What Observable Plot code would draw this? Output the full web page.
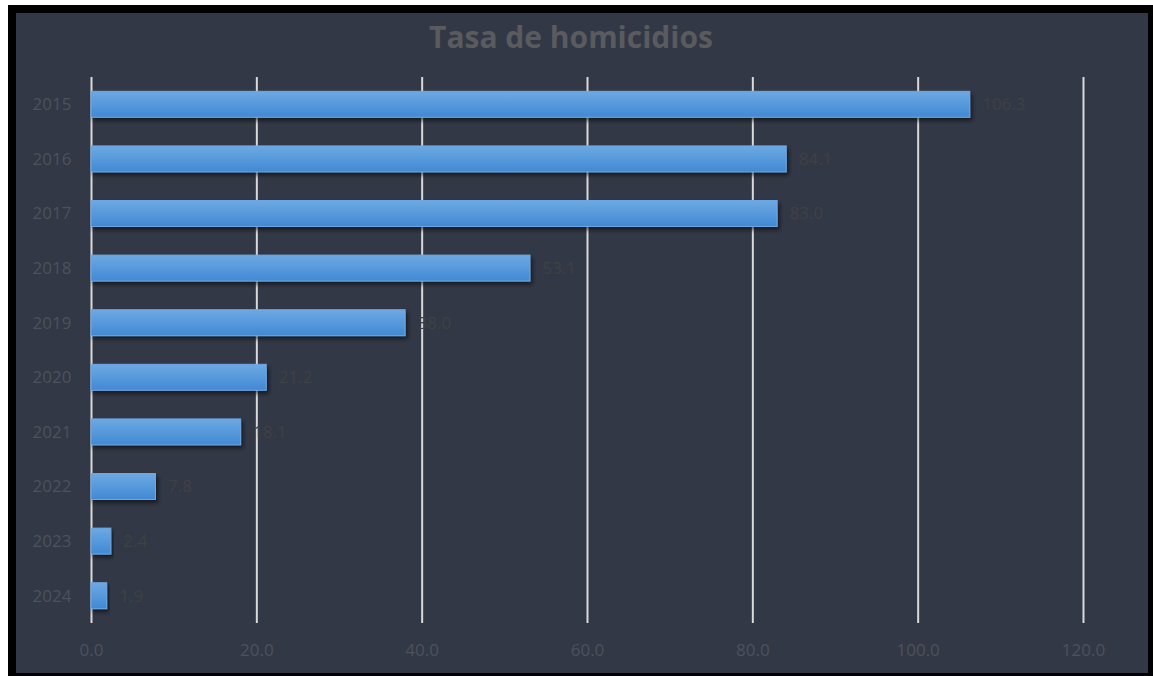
<!DOCTYPE html>
<html>
<head>
<meta charset="utf-8">
<script src="https://cdn.jsdelivr.net/npm/d3@7"></script>
<script src="https://cdn.jsdelivr.net/npm/@observablehq/plot@0.6"></script>
<style>
  html, body { margin: 0; padding: 0; background: #ffffff; width: 1153px; height: 676px; overflow: hidden; }
  #frame { position: absolute; left: 8px; top: 5px; width: 1145px; height: 671px; background: #000; }
  #panel { position: absolute; left: 16px; top: 13px; width: 1132px; height: 660px; background: #323846; }
  #title { position: absolute; left: 0px; top: 22px; width: 1142px; text-align: center; line-height: 30px;
           font-family: "Open Sans", sans-serif; font-weight: bold; font-size: 30px; color: #5a5b5e; }
  #chart { position: absolute; left: 0; top: 0; }
</style>
</head>
<body>
<div id="frame"></div>
<div id="panel"></div>
<div id="title">Tasa de homicidios</div>
<div id="chart"></div>
<script>
const years = ["2015","2016","2017","2018","2019","2020","2021","2022","2023","2024"];
const rates = [106.3, 84.1, 83.0, 53.1, 38.0, 21.2, 18.1, 7.8, 2.4, 1.9];
const xTicks = [0, 20, 40, 60, 80, 100, 120];

const data = years.map((y, i) => ({year: y, rate: rates[i]}));

const plot = Plot.plot({
  width: 1153,
  height: 676,
  marginLeft: 91,
  marginRight: 70,
  marginTop: 77,
  marginBottom: 53,
  style: {background: "transparent", fontFamily: "'Open Sans', sans-serif"},
  x: {domain: [0, 120], ticks: xTicks, tickFormat: d => d.toFixed(1), label: null},
  y: {domain: years, paddingInner: 0.525, paddingOuter: 0.2625, round: false, label: null},
  marks: [
    Plot.ruleX(xTicks, {stroke: "#d9d9d9", strokeWidth: 2, strokeOpacity: 1}),
    Plot.barX(data, {x: "rate", y: "year", fill: "#559be0", stroke: "#6fa9e6", strokeWidth: 1, className: "bars"}),
    Plot.text(data, {x: "rate", y: "year", text: d => d.rate.toFixed(1), textAnchor: "start", dx: 12, fill: "#404142", fontSize: 17}),
    Plot.axisX({ticks: xTicks, tickFormat: d => d.toFixed(1), tickSize: 0, tickPadding: 20, fontSize: 17, color: "#4d525c", label: null}),
    Plot.axisY({tickSize: 0, tickPadding: 20, fontSize: 17, color: "#4d525c", label: null})
  ]
});

const svg = d3.select(plot);
const defs = svg.insert("defs", ":first-child");
const grad = defs.append("linearGradient").attr("id", "barGrad").attr("x1", 0).attr("y1", 0).attr("x2", 0).attr("y2", 1);
grad.append("stop").attr("offset", "0%").attr("stop-color", "#6da9e3");
grad.append("stop").attr("offset", "100%").attr("stop-color", "#4189d4");
const filt = defs.append("filter").attr("id", "shadow").attr("x", "-5%").attr("y", "-30%").attr("width", "120%").attr("height", "180%");
filt.append("feDropShadow").attr("dx", 2).attr("dy", 3).attr("stdDeviation", 2).attr("flood-color", "#000").attr("flood-opacity", 0.55);
svg.selectAll(".bars rect").attr("fill", "url(#barGrad)").attr("filter", "url(#shadow)");

document.getElementById("chart").appendChild(plot);
</script>
</body>
</html>
